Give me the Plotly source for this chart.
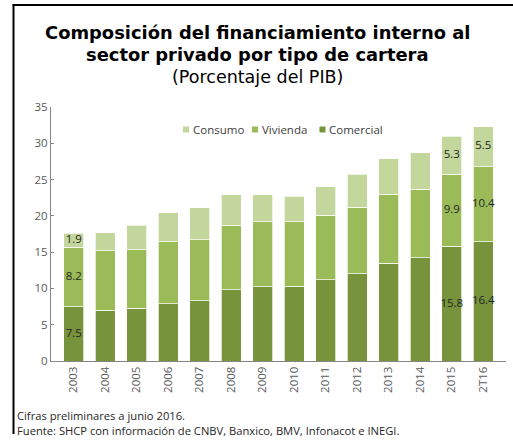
import plotly.graph_objects as go

categories = ["2003", "2004", "2005", "2006", "2007", "2008", "2009",
              "2010", "2011", "2012", "2013", "2014", "2015", "2T16"]
comercial = [7.5, 7.0, 7.3, 7.9, 8.3, 9.8, 10.2, 10.3, 11.2, 12.0, 13.5, 14.2, 15.8, 16.4]
vivienda = [8.2, 8.2, 8.0, 8.5, 8.4, 8.9, 9.0, 8.9, 8.9, 9.2, 9.5, 9.5, 9.9, 10.4]
consumo = [1.9, 2.5, 3.4, 4.0, 4.4, 4.2, 3.7, 3.5, 3.9, 4.5, 4.9, 5.0, 5.3, 5.5]
label_cats = ["2003", "2015", "2T16"]
y_ticks = [0, 5, 10, 15, 20, 25, 30, 35]
legend_names = ["Consumo", "Vivienda", "Comercial"]

col_com = "#77933C"
col_viv = "#9BBB59"
col_con = "#C3D69B"
FONT = "Open Sans"
TFONT = "DejaVu Sans"

W, H = 513, 444
L, R, T, B = 51, 7, 107, 83
PW, PH = W - L - R, H - T - B


def px_x(p):
    return (p - L) / PW


def px_y(p):
    return (H - B - p) / PH


fig = go.Figure()
edge = dict(color="rgba(255,255,255,0.7)", width=1)
fig.add_trace(go.Bar(name="Comercial", x=categories, y=comercial,
                     marker=dict(color=col_com, line=edge)))
fig.add_trace(go.Bar(name="Vivienda", x=categories, y=vivienda,
                     marker=dict(color=col_viv, line=edge)))
fig.add_trace(go.Bar(name="Consumo", x=categories, y=consumo,
                     marker=dict(color=col_con, line=edge)))

# value labels centered in segments
lx, ly, lt = [], [], []
for i, c in enumerate(categories):
    if c in label_cats:
        base = 0
        for series in (comercial, vivienda, consumo):
            v = series[i]
            lx.append(c)
            ly.append(base + v / 2)
            lt.append(f"{v:.1f}")
            base += v
fig.add_trace(go.Scatter(x=lx, y=ly, text=lt, mode="text", showlegend=False,
                         textfont=dict(family=FONT, size=11.5, color="#262626"),
                         hoverinfo="skip"))

fig.update_layout(
    width=W, height=H,
    margin=dict(l=L, r=R, t=T, b=B, autoexpand=False),
    barmode="stack", bargap=0.38,
    paper_bgcolor="white", plot_bgcolor="white",
    font=dict(family=FONT, size=11, color="#595959"),
    showlegend=False,
    xaxis=dict(type="category", tickangle=-90, showline=True, linecolor="#868686",
               linewidth=1, ticks="", showgrid=False,
               tickfont=dict(size=11.5, color="#595959")),
    yaxis=dict(range=[0, 35], tickvals=y_ticks, showline=True, linecolor="#868686",
               linewidth=1, ticks="inside", ticklen=3, tickcolor="#868686",
               showgrid=False, zeroline=False,
               tickfont=dict(size=11.5, color="#595959")),
)

# custom compact legend
leg_cols = {"Consumo": col_con, "Vivienda": col_viv, "Comercial": col_com}
leg_sq_x = {"Consumo": 183, "Vivienda": 252, "Comercial": 319.5}
for name in legend_names:
    x0 = leg_sq_x[name]
    fig.add_shape(type="rect", xref="paper", yref="paper",
                  x0=px_x(x0), x1=px_x(x0 + 6), y0=px_y(132.5), y1=px_y(126.5),
                  fillcolor=leg_cols[name], line=dict(width=0))
    fig.add_annotation(text=name, x=px_x(x0 + 7.5), y=px_y(129.5), xref="paper",
                       yref="paper", xanchor="left", yanchor="middle", showarrow=False,
                       font=dict(family=FONT, size=11.5, color="#404040"))

titles = [
    ("<b>Composición del financiamiento interno al</b>", 32, 17.9),
    ("<b>sector privado por tipo de cartera</b>", 55, 17.9),
    ("(Porcentaje del PIB)", 76.5, 17.5),
]
for txt, yy, sz in titles:
    fig.add_annotation(text=txt, x=px_x(257), y=px_y(yy), xref="paper",
                       yref="paper", xanchor="center", yanchor="middle", showarrow=False,
                       borderpad=0, font=dict(family=TFONT, size=sz, color="#000000"))

foot_text = ("Cifras preliminares a junio 2016.<br>"
             "Fuente: SHCP con información de CNBV, Banxico, BMV, Infonacot e INEGI.")
fig.add_annotation(text=foot_text, x=px_x(15), y=px_y(422.5), xref="paper",
                   yref="paper", xanchor="left", yanchor="middle", align="left",
                   showarrow=False,
                   font=dict(family=FONT, size=11.2, color="#262626"))

# frame lines (left and top)
fig.add_shape(type="line", xref="paper", yref="paper", x0=px_x(13.5), x1=px_x(13.5),
              y0=px_y(4.5), y1=px_y(434), line=dict(color="#000000", width=2))
fig.add_shape(type="line", xref="paper", yref="paper", x0=px_x(12.5), x1=px_x(513),
              y0=px_y(5), y1=px_y(5), line=dict(color="#000000", width=2))

fig.write_html("out.html", config={"displayModeBar": False},
               post_script="document.body.style.margin='0';")
